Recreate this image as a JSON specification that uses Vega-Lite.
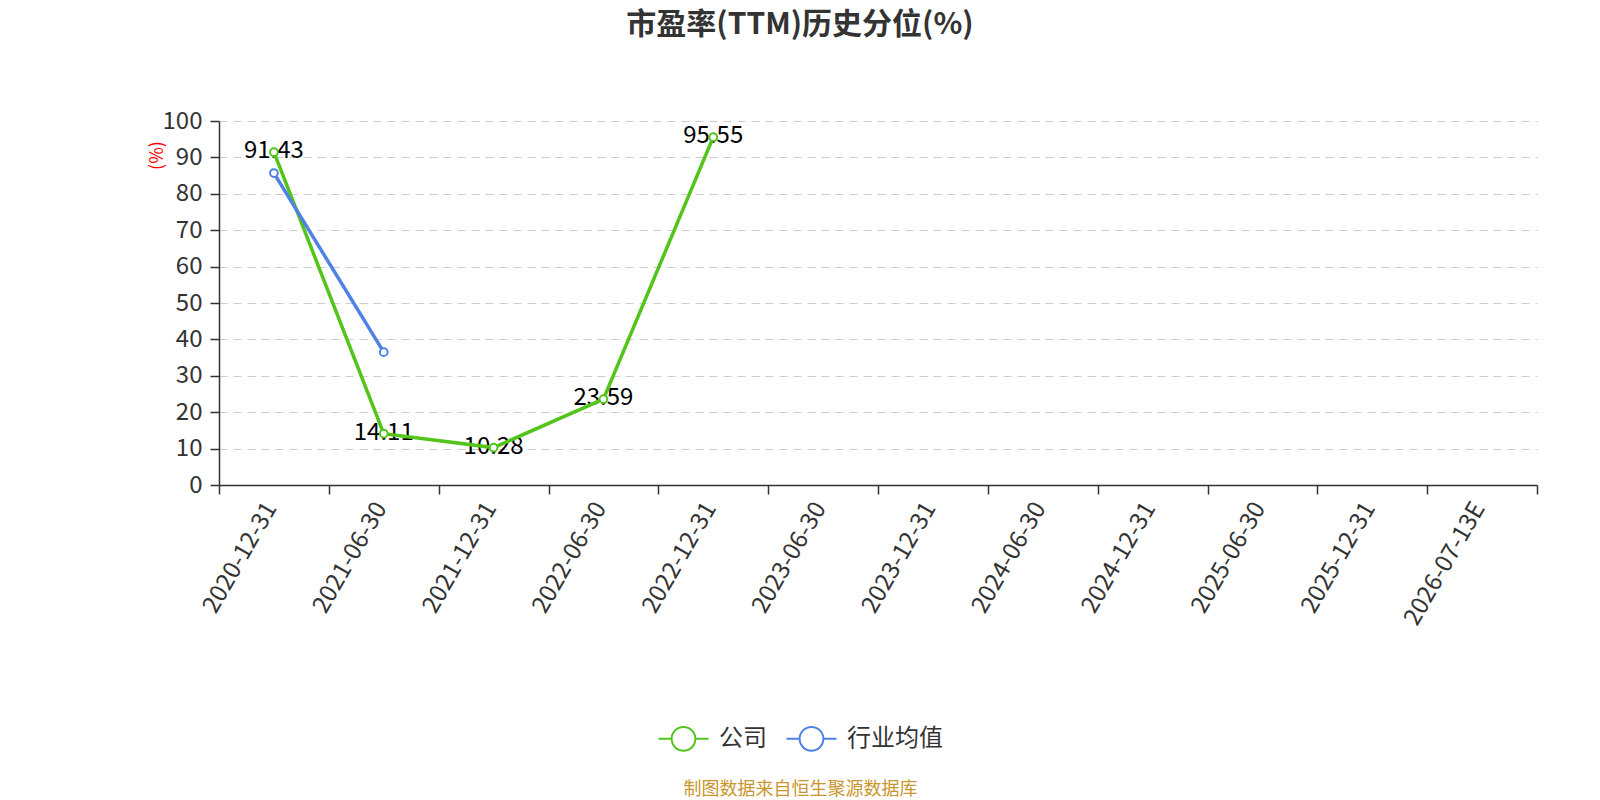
{
  "$schema": "https://vega.github.io/schema/vega-lite/v6.json",
  "autosize": {"type": "none"},
  "width": 1318,
  "height": 364,
  "padding": {"left": 219, "top": 121, "right": 63, "bottom": 315},
  "background": "white",
  "config": {"view": {"stroke": null}},
  "title": {
    "text": "市盈率(TTM)历史分位(%)",
    "font": "Noto Sans CJK SC",
    "fontSize": 30,
    "fontWeight": "bold",
    "color": "#333333",
    "anchor": "middle",
    "frame": "group",
    "dx": -78,
    "baseline": "alphabetic",
    "offset": 45
  },
  "data": {
    "values": [
      {"date": "2020-12-31", "series": "公司", "value": 91.43},
      {"date": "2021-06-30", "series": "公司", "value": 14.11},
      {"date": "2021-12-31", "series": "公司", "value": 10.28},
      {"date": "2022-06-30", "series": "公司", "value": 23.59},
      {"date": "2022-12-31", "series": "公司", "value": 95.55},
      {"date": "2020-12-31", "series": "行业均值", "value": 85.7},
      {"date": "2021-06-30", "series": "行业均值", "value": 36.5}
    ]
  },
  "encoding": {
    "x": {
      "field": "date",
      "type": "nominal",
      "sort": null,
      "scale": {
        "type": "band",
        "paddingInner": 0,
        "paddingOuter": 0,
        "domain": ["2020-12-31", "2021-06-30", "2021-12-31", "2022-06-30", "2022-12-31", "2023-06-30", "2023-12-31", "2024-06-30", "2024-12-31", "2025-06-30", "2025-12-31", "2026-07-13E"]
      },
      "axis": {
        "title": "制图数据来自恒生聚源数据库",
        "titleFont": "Noto Sans CJK SC",
        "titleFontSize": 18,
        "titleFontWeight": "normal",
        "titleColor": "#c8962e",
        "titleX": 581,
        "titleY": 304,
        "titleAlign": "center",
        "titleBaseline": "middle",
        "labelAngle": -60,
        "labelFont": "Noto Sans CJK SC",
        "labelFontSize": 24,
        "labelColor": "#333333",
        "labelPadding": 10,
        "labelOffset": -3,
        "tickBand": "extent",
        "tickSize": 9,
        "tickWidth": 1.5,
        "tickColor": "#333333",
        "domainColor": "#333333",
        "domainWidth": 1.5,
        "grid": false
      }
    },
    "y": {
      "field": "value",
      "type": "quantitative",
      "scale": {"domain": [0, 100], "nice": false},
      "axis": {
        "title": "(%)",
        "titleFont": "Noto Sans CJK SC",
        "titleFontSize": 18,
        "titleFontWeight": "normal",
        "titleColor": "red",
        "titleX": -62,
        "titleY": 34,
        "titleAngle": -90,
        "titleAlign": "center",
        "titleBaseline": "middle",
        "values": [0, 10, 20, 30, 40, 50, 60, 70, 80, 90, 100],
        "labelFont": "Noto Sans CJK SC",
        "labelFontSize": 24,
        "labelColor": "#333333",
        "labelPadding": 8,
        "tickSize": 9,
        "tickWidth": 1.5,
        "tickColor": "#333333",
        "domainColor": "#333333",
        "domainWidth": 1.5,
        "grid": true,
        "gridColor": "#cccccc",
        "gridDash": [8, 6],
        "gridWidth": 1.2
      }
    }
  },
  "layer": [
    {
      "transform": [{"filter": "datum.series === '公司'"}],
      "mark": {"type": "text", "font": "Noto Sans CJK SC", "fontSize": 24, "color": "black", "align": "center", "baseline": "middle", "dy": -1},
      "encoding": {"text": {"field": "value", "type": "quantitative", "format": ".2f"}}
    },
    {
      "mark": {"type": "line", "strokeWidth": 3.5},
      "encoding": {
        "color": {
          "field": "series",
          "type": "nominal",
          "scale": {"domain": ["公司", "行业均值"], "range": ["#52c41a", "#4e82e4"]},
          "legend": {
            "title": null,
            "orient": "none",
            "direction": "horizontal",
            "legendX": 451,
            "legendY": 604,
            "padding": 0,
            "symbolType": "M-2,0L-0.95,0M0.95,0L2,0M0.95,0A0.95,0.95,0,1,1,-0.95,0A0.95,0.95,0,1,1,0.95,0Z",
            "symbolSize": 625,
            "symbolStrokeWidth": 2,
            "symbolFillColor": "white",
            "labelFont": "Noto Sans CJK SC",
            "labelFontSize": 24,
            "labelColor": "#333333",
            "labelOffset": 22,
            "columnPadding": 15
          }
        }
      }
    },
    {
      "mark": {"type": "point", "shape": "circle", "filled": false, "fill": "white", "strokeWidth": 2, "size": 60, "opacity": 1},
      "encoding": {
        "color": {"field": "series", "type": "nominal", "legend": null}
      }
    }
  ]
}
